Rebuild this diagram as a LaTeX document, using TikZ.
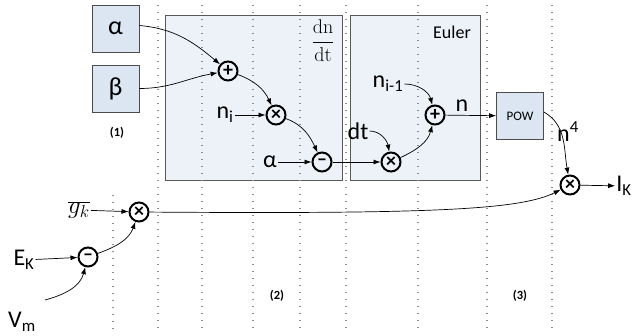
\documentclass[tikz,border=0pt]{standalone}
\usepackage{fontspec}
\setmainfont{Carlito}
\usetikzlibrary{arrows.meta}
\definecolor{boxfill}{HTML}{DCE6F2}
\definecolor{stagefill}{HTML}{EDF1F8}
\definecolor{dotgray}{HTML}{8C8C8C}
\begin{document}
\begin{tikzpicture}[x=1pt,y=-1pt,
  valbox/.style={draw=black!70,line width=0.8pt,fill=boxfill,minimum width=47pt,minimum height=47pt,inner sep=0pt,font=\fontsize{26}{28}\selectfont},
  stagebox/.style={draw=black!65,line width=0.9pt,fill=stagefill,inner sep=0pt},
  op/.style={circle,draw,line width=2pt,minimum size=19pt,inner sep=0pt,font=\fontsize{20}{20}\selectfont\bfseries},
  lbl/.style={inner sep=1pt,font=\fontsize{24}{26}\selectfont},
  stagenum/.style={inner sep=0pt,font=\fontsize{12.5}{13}\selectfont\bfseries},
  flow/.style={-{Latex[length=7pt,width=5pt]},line width=0.7pt},
  guide/.style={dotgray,line width=1.4pt,dash pattern=on 1.4pt off 5.6pt}]
\useasboundingbox (0,0) rectangle (637,336);
\pgfmathsetmacro{\ytop}{5}
\pgfmathsetmacro{\ybot}{330}
% parameter boxes and stages
  \node[valbox] (alpha) at (115.5,28.5) {α};
  \node[valbox] (beta) at (115.5,88.5) {β};
  \node[stagebox,minimum width=177pt,minimum height=165pt] (dndt) at (253.5,97.5) {};
  \node[stagebox,minimum width=130pt,minimum height=165pt] (euler) at (415,97.5) {};
  \node[valbox,font=\fontsize{13}{14}\selectfont] (pow) at (520,116) {POW};
% time steps
  \foreach \x in {158,202,253,300,346,418,487,552} \draw[guide] (\x,\ytop) -- (\x,\ybot);
  \draw[guide] (113,195) -- (113,\ybot);
  \node[stagenum] (s1) at (117,133) {(1)};
  \node[stagenum] (s2) at (277,296) {(2)};
  \node[stagenum] (s3) at (520,296) {(3)};
  \node[font=\fontsize{20}{22}\fontfamily{lmr}\selectfont] (dnlbl) at (323,41) {$\displaystyle\frac{\mbox{dn}}{\mbox{dt}}$};
  \node[font=\fontsize{18}{20}\selectfont] (eulerlbl) at (452,32) {Euler};
% operators
  \node[op] (addA) at (228,71) {+};
  \node[op] (mulA) at (276,115) {×};
  \node[op] (subA) at (322,162) {–};
  \node[op] (mulE) at (391,162) {×};
  \node[op] (addE) at (435,115) {+};
  \node[op] (mulK) at (570,185) {×};
  \node[op] (subV) at (88,257) {–};
  \node[op] (mulG) at (139,212) {×};
% inputs and outputs
  \node[lbl] (ni) at (225,115) {n\textsubscript{i}};
  \node[lbl] (al2) at (270,162) {α};
  \node[lbl] (dt) at (358,131) {dt};
  \node[lbl] (nim) at (388,84) {n\textsubscript{i-1}};
  \node[lbl] (nout) at (462,106) {n};
  \node[lbl] (n4) at (568,132) {n\textsuperscript{4}};
  \node[lbl] (ik) at (624,186) {I\textsubscript{K}};
  \node[lbl,font=\fontsize{26}{28}\selectfont] (gk) at (79,210) {$\overline{g_k}$};
  \node[lbl] (ek) at (24,260) {E\textsubscript{K}};
  \node[lbl,anchor=base] (vm) at (22,328) {V\textsubscript{m}};
  \coordinate (vmend) at (45,300);
% connections
  \draw[flow] ([yshift=3pt]alpha.east) to[out=-5,in=140] (addA);
  \draw[flow] (beta.east) to[out=0,in=190] (addA);
  \draw[flow] (addA) to[out=-20,in=115] (mulA);
  \draw[flow] (ni) -- (mulA);
  \draw[flow] (mulA) to[out=-20,in=115] (subA);
  \draw[flow] (al2) -- (subA);
  \draw[flow] (subA) -- (mulE);
  \draw[flow] (dt.east) to[out=0,in=100] (mulE);
  \draw[flow] (mulE) to[out=25,in=-105] (addE);
  \draw[flow] (nim.east) to[out=0,in=105] (addE);
  \draw[flow] (addE) -- (pow);
  \draw[flow] ([yshift=4pt]pow.east) to[out=-30,in=100] (mulK);
  \draw[flow] (mulK) -- (ik);
  \draw[flow] (gk) -- (mulG);
  \draw[flow] (ek) -- (subV);
  \draw[flow] (vmend) to[out=15,in=-105] (subV);
  \draw[flow] (subV) to[out=20,in=-110] (mulG);
  \draw[flow] (mulG) .. controls (430,214) and (520,210) .. (mulK);
\end{tikzpicture}
\end{document}
